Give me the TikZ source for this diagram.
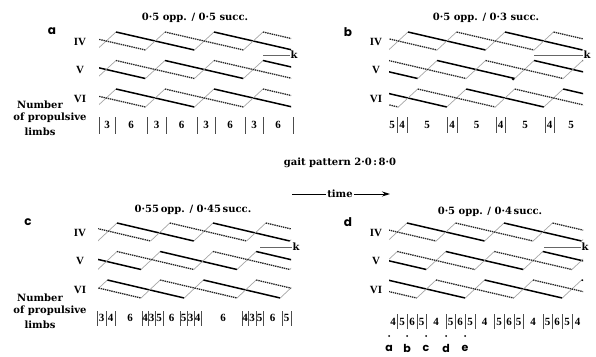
\documentclass[tikz,border=0pt]{standalone}
\usepackage{fontspec}
\setmainfont{DejaVu Serif}
\newfontfamily\cifre{Liberation Serif}
\newfontfamily\lettere{Poppins}
\usetikzlibrary{arrows.meta}

\tikzset{
    destra/.style={line width=1.5pt, black},
    sinistra/.style={line width=1.3pt, black!85, dash pattern=on 1.4pt off 0.8pt},
    volo/.style={line width=0.7pt, black!35},
    barra/.style={line width=0.6pt, black!70},
    guida/.style={line width=0.8pt, black!60},
    testo/.style={font=\fontsize{10}{12}\selectfont\bfseries, inner sep=0pt},
    cifra/.style={font=\cifre\fontsize{11}{13}\selectfont\bfseries, inner sep=0pt},
    pannello/.style={font=\lettere\fontsize{12}{14}\selectfont\bfseries, inner sep=0pt}
}

% una zampa: stile, inizio, fase, periodo, y alto
\newcommand{\zampa}[5]{%
    \foreach \k in {-2,...,3} {
        \pgfmathsetmacro{\xs}{#2+(#3+\k)*#4}
        \draw[volo] (\xs-0.2*#4, #5+18) -- (\xs, #5);
        \draw[#1] (\xs, #5) -- (\xs+0.8*#4, #5+18);
    }%
}

\begin{document}
\begin{tikzpicture}[x=1pt, y=-1pt]
    \useasboundingbox (0,0) rectangle (596,356);

    % Titoli
    \node[testo] (ta) at (195,18) {0·5 opp. / 0·5 succ.};
    \node[testo] (tb) at (486,18) {0·5 opp. / 0·3 succ.};
    \node[testo] (tc) at (193,210) {0·55\,opp. / 0·45\,succ.};
    \node[testo] (td) at (490,212) {0·5 opp. / 0·4\,succ.};

    % Lettere
    \node[pannello] (la) at (52,31) {a};
    \node[pannello] (lb) at (348,32) {b};
    \node[pannello] (lc) at (28,222) {c};
    \node[pannello] (ld) at (348,222) {d};

    % Zampe
    \foreach \x/\y [count=\i] in {80/32, 376/32, 80/223, 376/223} {
        \node[cifra] (iv\i) at (\x,\y+10) {IV};
        \node[cifra] (v\i) at (\x,\y+38) {V};
        \node[cifra] (vi\i) at (\x,\y+66.5) {VI};
    }

    % Pannello a
    \begin{scope}
        \clip (99,20) rectangle (291,115);
        \zampa{destra}{116}{0}{98}{32}
        \zampa{sinistra}{116}{0.5}{98}{32}
        \zampa{destra}{116}{0.5}{98}{60.5}
        \zampa{sinistra}{116}{0}{98}{60.5}
        \zampa{destra}{116}{0}{98}{89}
        \zampa{sinistra}{116}{0.5}{98}{89}
    \end{scope}

    % Pannello b
    \begin{scope}
        \clip (389,20) rectangle (583,115);
        \zampa{destra}{408}{0}{97}{32}
        \zampa{sinistra}{408}{0.5}{97}{32}
        \zampa{destra}{408}{0.3}{97}{60.5}
        \zampa{sinistra}{408}{0.8}{97}{60.5}
        \zampa{destra}{408}{0.6}{97}{89}
        \zampa{sinistra}{408}{0.1}{97}{89}
    \end{scope}
    \fill (513,79) circle (1.5);

    % Pannello c
    \begin{scope}
        \clip (98,210) rectangle (291,306);
        \zampa{destra}{117}{0}{96}{223}
        \zampa{sinistra}{117}{0.55}{96}{223}
        \zampa{destra}{117}{0.45}{96}{251.5}
        \zampa{sinistra}{117}{1}{96}{251.5}
        \zampa{destra}{117}{0.9}{96}{280}
        \zampa{sinistra}{117}{0.45}{96}{280}
    \end{scope}

    % Pannello d
    \begin{scope}
        \clip (389,210) rectangle (583,306);
        \zampa{destra}{407}{0}{97}{223}
        \zampa{sinistra}{407}{0.5}{97}{223}
        \zampa{destra}{407}{0.4}{97}{251.5}
        \zampa{sinistra}{407}{0.9}{97}{251.5}
        \zampa{destra}{407}{0.8}{97}{280}
        \zampa{sinistra}{407}{0.3}{97}{280}
    \end{scope}

    % k
    \foreach \x/\y/\l [count=\i] in {263/55/294, 534/55/587, 260/247/296, 544/247/585} {
        \node[testo] (k\i) at (\l,\y) {k};
        \coordinate (k0\i) at (\x,\y);
        \draw[guida] (k0\i) -- (k\i.west);
    }

    % Numero di zampe propulsive
    \foreach \y in {125,318} {
        \node[testo] (nu\y) at (40,\y-20) {Number};
        \node[testo] (op\y) at (50,\y-7) {of propulsive};
        \node[testo] (li\y) at (40,\y+7) {limbs};
    }
    \foreach \x in {99,115,147,166,197,215,245,263,293}
        \draw[barra] (\x,117) -- (\x,134);
    \foreach \x/\n [count=\i] in {107/3,131/6,156.5/3,181.5/6,206/3,230/6,254/3,278/6}
        \node[cifra] (na\i) at (\x,125) {\n};
    \foreach \x in {397,407,447,457,496,505,545,554}
        \draw[barra] (\x,117) -- (\x,133);
    \foreach \x/\n [count=\i] in {392/5,402/4,427/5,452/4,476.5/5,500.5/4,525/5,549.5/4,571/5}
        \node[cifra] (nb\i) at (\x,125) {\n};
    \foreach \x in {97,106,115,142,148,155,163,180,187,194,201,242,248,256,263,282,291}
        \draw[barra] (\x,311) -- (\x,326);
    \foreach \x/\n [count=\i] in {101.5/3,110.5/4,130/6,145/4,151.5/3,159/5,171.5/6,183.5/5,190.5/3,197.5/4,223/6,245/4,252/3,259.5/5,272.5/6,286.5/5}
        \node[cifra] (nc\i) at (\x,318) {\n};
    \foreach \x in {397,407,417,426,446,455,465,475,494,504,514,523,543,552,562,572}
        \draw[barra] (\x,314) -- (\x,329);
    \foreach \x/\n [count=\i] in {393/4,402/5,412/6,421.5/5,436/4,450.5/5,460/6,470/5,484.5/4,499/5,509/6,518.5/5,533/4,547.5/5,557/6,567/5,577.5/4}
        \node[cifra] (nd\i) at (\x,322) {\n};

    % Istanti a-e
    \foreach \x/\l [count=\i] in {389/a,407/b,426/c,446/d,465/e} {
        \fill (\x,336) circle (1);
        \node[pannello, font=\lettere\fontsize{11}{13}\selectfont\bfseries] (m\i) at (\x,348) {\l};
    }

    % Andatura e tempo
    \node[testo] (gp) at (340,163) {gait pattern 2·0\,:\,8·0};
    \node[testo, inner sep=1pt] (tempo) at (340,194) {time};
    \coordinate (t0) at (292,194);
    \coordinate (t1) at (390,194);
    \draw[line width=0.9pt] (t0) -- (tempo.west);
    \draw[line width=0.9pt, -{Stealth[length=8pt, width=5pt]}] (tempo.east) -- (t1);
\end{tikzpicture}
\end{document}
